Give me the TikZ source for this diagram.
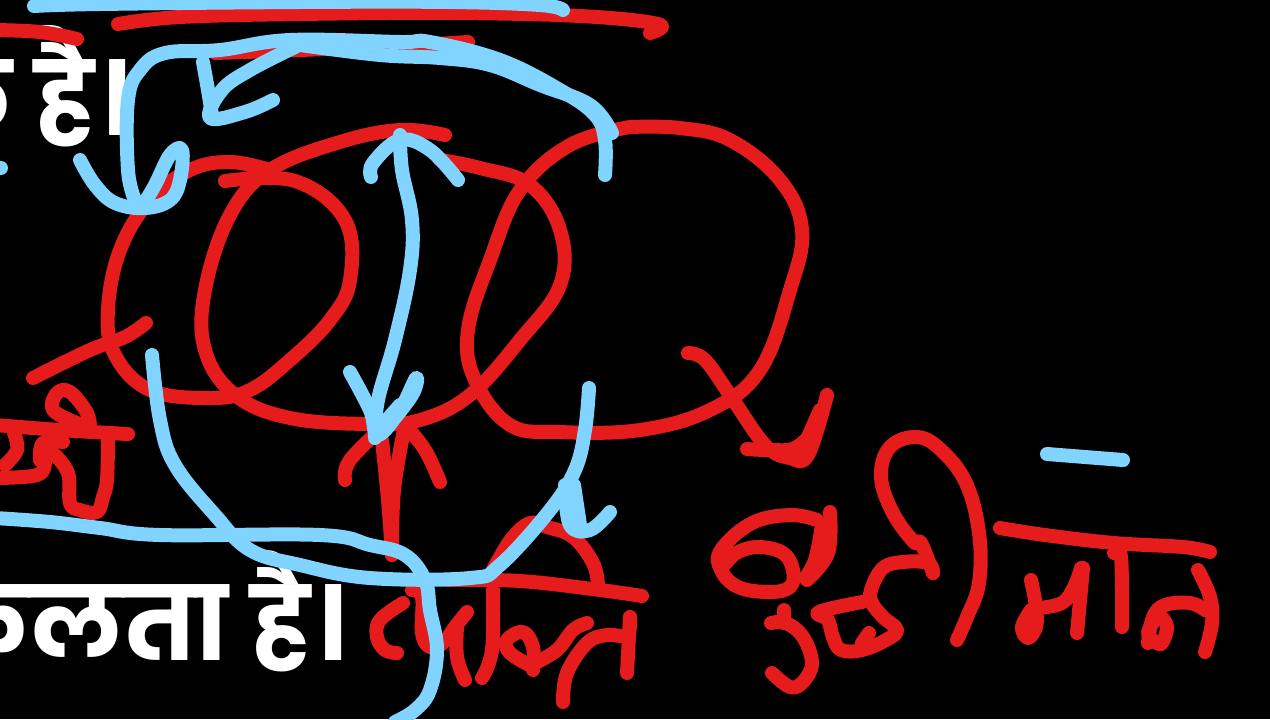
\documentclass[tikz,border=0pt]{standalone}
\usepackage{fontspec}
\newfontfamily\devafont[Script=Devanagari]{Poppins}
\usetikzlibrary{positioning}
\definecolor{inkred}{HTML}{E61C1C}
\definecolor{inkblue}{HTML}{80D4FF}
\tikzset{
  redink/.style={draw=inkred,line width=10.5pt,line cap=round,line join=round},
  blueink/.style={draw=inkblue,line width=10.5pt,line cap=round,line join=round},
  boldtext/.style={text=white,inner sep=0pt,anchor=base east,font=\devafont\bfseries\fontsize{77}{90}\selectfont},
}
\begin{document}
\begin{tikzpicture}[x=0.75pt,y=-0.75pt]
  \useasboundingbox (0,0) rectangle (1270,719);
  \fill[black] (0,0) rectangle (1270,719);
  \clip (0,0) rectangle (1270,719);
  \node[boldtext] (topline) at (130,135) {क है।};
  \node[boldtext] (bottomline) at (346,660) {निकलता है।};
  % red strokes
  \draw[redink] plot[smooth,tension=.65] coordinates {(118,24) (180,17) (300,14) (450,13) (580,16) (658,24) (650,33)};
  \draw[redink] plot[smooth,tension=.65] coordinates {(-5,30) (40,32) (77,39)};
  \draw[redink] plot[smooth,tension=.65] coordinates {(215,53) (300,50) (400,46) (468,42)};
  \draw[redink] plot[smooth,tension=.65] coordinates {(225,181) (295,181) (345,220) (350,280) (330,320) (290,360) (250,390) (210,398) (150,390) (115,355) (108,310) (120,250) (150,200) (190,170) (230,162) (270,170)};
  \draw[redink] plot[smooth,tension=.65] coordinates {(445,135) (400,130) (340,142) (270,170) (230,215) (205,290) (205,350) (235,395) (290,418) (370,424) (420,420) (470,395) (520,340) (560,285) (560,230) (530,185) (480,168) (440,160)};
  \draw[redink] plot[smooth,tension=.65] coordinates {(630,127) (570,145) (520,190) (490,260) (468,330) (475,380) (510,425) (560,432) (640,430) (710,410) (760,370) (790,290) (802,230) (780,180) (730,140) (680,128) (630,127)};
  \draw[redink] plot[smooth,tension=.65] coordinates {(33,378) (90,350) (125,337) (146,323)};
  \draw[redink] plot[smooth,tension=.65] coordinates {(688,353) (705,360) (730,395) (765,445) (790,458) (808,455) (827,395)};
  \draw[redink] plot[smooth,tension=.65] coordinates {(747,449) (770,450) (795,448) (815,430)};
  \draw[redink] (800,455) -- (820,410);
  \draw[redink] plot[smooth,tension=.65] coordinates {(392,555) (388,500) (382,440)};
  \draw[redink] plot[smooth,tension=.65] coordinates {(392,555) (394,490) (405,425)};
  \draw[redink] plot[smooth,tension=.65] coordinates {(345,480) (350,460) (385,425)};
  \draw[redink] plot[smooth,tension=.65] coordinates {(440,482) (425,450) (405,425)};
  % left word
  \draw[redink] plot[smooth,tension=.65] coordinates {(-5,425) (60,430) (128,434)};
  \draw[redink] plot[smooth,tension=.65] coordinates {(-5,478) (37,475) (45,462) (40,460)};
  \draw[redink] plot[smooth,tension=.65] coordinates {(5,465) (17,450) (14,433)};
  \draw[redink] plot[smooth,tension=.65] coordinates {(40,460) (43,443) (63,442)};
  \draw[redink] plot[smooth,tension=.65] coordinates {(53,453) (68,473) (70,503) (80,510) (97,512) (103,497) (107,480) (108,437)};
  \draw[redink] plot[smooth,tension=.65] coordinates {(77,423) (53,410) (57,393) (70,392) (87,413) (90,430)};
  % bottom word
  \draw[redink] plot[smooth,tension=.65] coordinates {(447,580) (520,581) (600,590) (642,596)};
  \draw[redink] plot[smooth,tension=.65] coordinates {(598,585) (593,563) (573,537) (547,527) (530,523) (513,537) (500,557) (493,570)};
  \draw[redink] plot[smooth,tension=.65] coordinates {(403,603) (380,620) (377,637) (385,650) (397,653)};
  \draw[redink] plot[smooth,tension=.65] coordinates {(412,590) (422,597) (422,633) (430,647) (443,643) (455,627) (467,612)};
  \draw[redink] plot[smooth,tension=.65] coordinates {(457,627) (457,657) (465,680)};
  \draw[redink] plot[smooth,tension=.65] coordinates {(493,590) (492,650) (482,678)};
  \draw[redink] plot[smooth,tension=.65] coordinates {(533,667) (510,653) (507,640) (523,632) (533,647) (533,670)};
  \draw[redink] plot[smooth,tension=.65] coordinates {(535,663) (557,650) (573,630) (587,623)};
  \draw[redink] plot[smooth,tension=.65] coordinates {(563,702) (567,673) (587,643) (607,635) (627,635) (630,617)};
  \draw[redink] plot[smooth,tension=.65] coordinates {(630,617) (627,673)};
  % right words
  \draw[redink] plot[smooth,tension=.65] coordinates {(817,520) (790,515) (752,523) (721,550) (721,570) (738,587) (769,592) (790,587) (793,570) (783,553) (759,547) (738,552) (726,563)};
  \draw[redink] plot[smooth,tension=.65] coordinates {(830,512) (828,553) (807,580)};
  \draw[redink] plot[smooth,tension=.65] coordinates {(822,525) (815,560) (805,578)};
  \draw[redink] plot[smooth,tension=.65] coordinates {(933,573) (921,543) (914,542) (893,513) (881,477) (890,447) (917,437) (941,450) (966,483) (979,533) (979,583) (967,617) (957,640)};
  \draw[redink] plot[smooth,tension=.65] coordinates {(933,573) (928,563) (903,562) (883,568) (871,590) (872,603) (883,617) (897,630) (886,640) (862,650) (841,650) (833,637) (828,620) (819,612) (862,602)};
  \draw[redink] plot[smooth,tension=.65] coordinates {(869,633) (862,643)};
  \draw[redink] plot[smooth,tension=.65] coordinates {(771,623) (786,623) (803,637) (812,663) (803,682) (790,687) (772,673)};
  \draw[redink] plot[smooth,tension=.65] coordinates {(784,610) (784,623)};
  \draw[redink] plot[smooth,tension=.65] coordinates {(1000,528) (1045,535) (1114,543) (1183,547) (1210,552)};
  \draw[redink] plot[smooth,tension=.65] coordinates {(1031,580) (1036,607) (1036,627) (1028,638) (1022,627) (1031,610)};
  \draw[redink] plot[smooth,tension=.65] coordinates {(1038,608) (1062,603) (1074,587) (1081,568)};
  \draw[redink] plot[smooth,tension=.65] coordinates {(1083,568) (1077,633)};
  \draw[redink] plot[smooth,tension=.65] coordinates {(1114,553) (1121,557) (1122,627)};
  \draw[redink] plot[smooth,tension=.65] coordinates {(1148,643) (1153,617) (1165,605) (1190,603) (1205,610)};
  \draw[redink] plot[smooth,tension=.65] coordinates {(1157,643) (1148,633) (1159,617) (1167,627) (1162,643) (1157,643)};
  \draw[redink] plot[smooth,tension=.65] coordinates {(1198,570) (1210,597) (1212,623) (1205,652)};
  % blue strokes
  \draw[blueink] plot[smooth,tension=.65] coordinates {(34,6) (100,4) (300,2) (450,2) (540,5) (563,10)};
  \draw[blueink] plot[smooth,tension=.65] coordinates {(80,160) (95,185) (115,203) (145,208) (170,200) (180,180) (182,150) (170,155) (155,185) (143,205)};
  \draw[blueink] plot[smooth,tension=.65] coordinates {(135,200) (128,170) (128,100) (140,70) (165,53) (220,50) (290,40) (400,42) (430,42) (500,60) (560,90) (595,115) (605,140) (605,175)};
  \draw[blueink] plot[smooth,tension=.65] coordinates {(300,45) (380,55) (440,58) (490,65) (540,85) (590,105) (612,133)};
  \draw[blueink] plot[smooth,tension=.65] coordinates {(295,47) (250,70) (222,90) (210,118) (245,112) (273,100)};
  \draw[blueink] plot[smooth,tension=.65] coordinates {(203,62) (208,90) (212,115)};
  \draw[blueink] plot[smooth,tension=.65] coordinates {(400,135) (402,170) (412,220) (410,270) (395,340) (378,400) (375,438)};
  \draw[blueink] plot[smooth,tension=.65] coordinates {(350,372) (370,410) (378,435) (400,410) (416,378) (412,395) (385,430)};
  \draw[blueink] (378,430) -- (400,405);
  \draw[blueink] plot[smooth,tension=.65] coordinates {(371,177) (373,163) (400,140) (430,150) (458,180)};
  \draw[blueink] plot[smooth,tension=.65] coordinates {(152,355) (160,420) (175,465) (215,515) (250,550) (300,565) (370,578) (470,578) (500,565) (550,510) (575,470) (585,430) (589,388)};
  \draw[blueink] plot[smooth,tension=.65] coordinates {(565,485) (570,525) (590,530) (610,512)};
  \draw[blueink] plot[smooth,tension=.65] coordinates {(574,485) (580,525)};
  \draw[blueink] plot[smooth,tension=.65] coordinates {(-5,518) (50,522) (100,528) (160,535) (320,535) (370,545) (405,555) (425,580) (430,610) (437,650) (430,690) (415,710) (395,722)};
  \draw[blueink] plot[smooth,tension=.65] coordinates {(1047,454) (1123,460)};
  \draw[blueink] (-3,168) -- (1,168);
\end{tikzpicture}
\end{document}
